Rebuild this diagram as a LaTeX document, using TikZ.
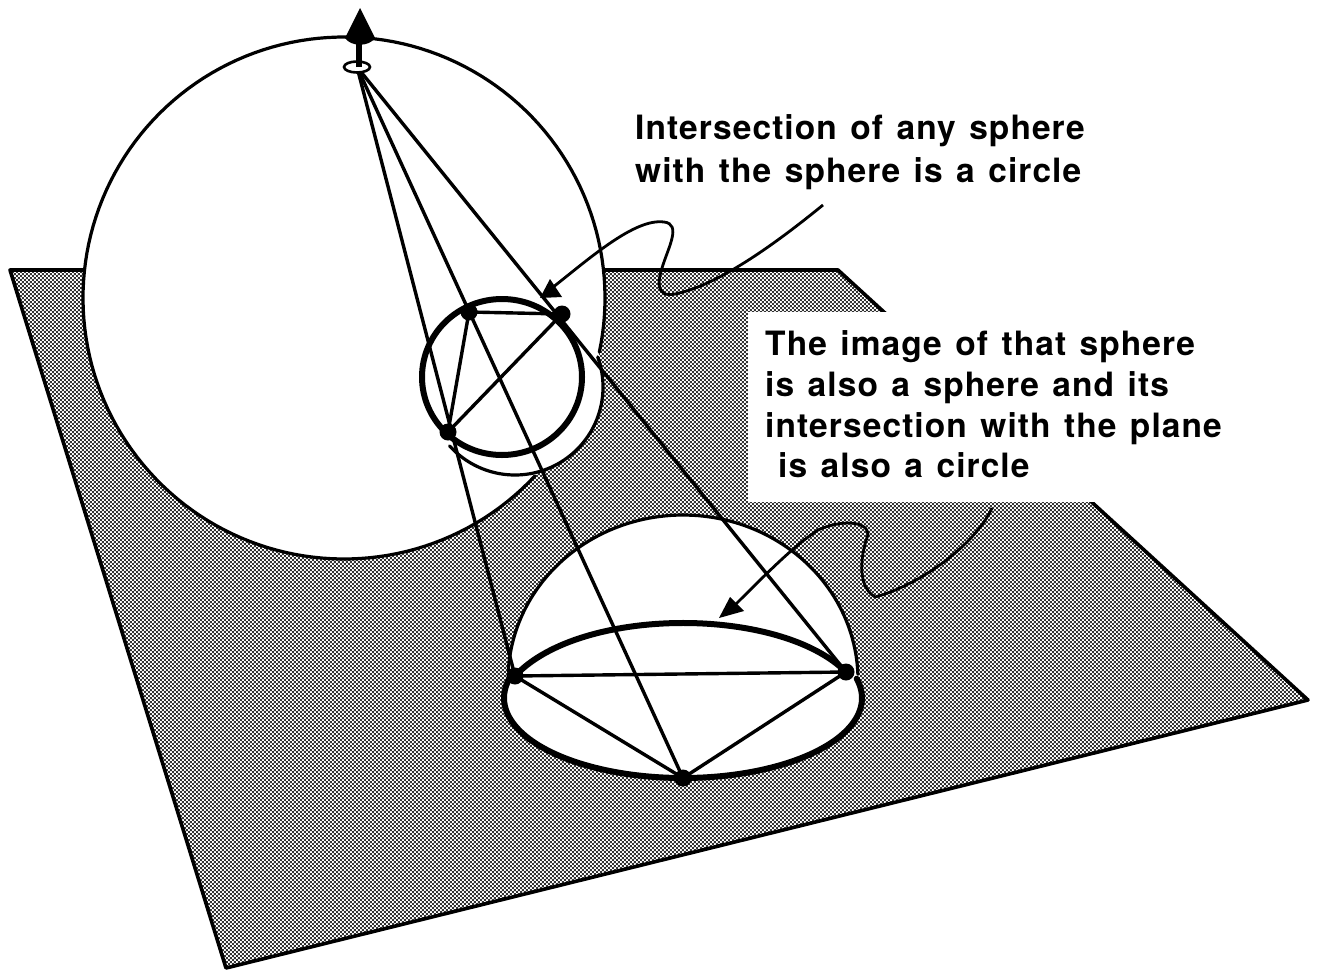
\documentclass[tikz,border=0pt]{standalone}
\usepackage{fontspec}
\setmainfont{TeX Gyre Heros}[LetterSpace=3.2,WordSpace=1.3]
\usetikzlibrary{patterns}
\pgfdeclarepatternformonly{dither}{\pgfqpoint{0pt}{0pt}}{\pgfqpoint{4.4pt}{4.4pt}}{\pgfqpoint{4.4pt}{4.4pt}}{
  \pgfpathrectangle{\pgfqpoint{0pt}{0pt}}{\pgfqpoint{2.2pt}{2.2pt}}
  \pgfpathrectangle{\pgfqpoint{2.2pt}{2.2pt}}{\pgfqpoint{2.2pt}{2.2pt}}
  \pgfusepath{fill}}
\tikzset{
  planefill/.style={pattern=dither,pattern color=black!80},
  edgeline/.style={draw=black,line width=3.6pt,line join=round},
  thin line/.style={draw=black,line width=3.2pt,line cap=round},
  ray/.style={draw=black,line width=3.4pt},
  heavy/.style={draw=black,line width=6pt,line cap=round},
  callout/.style={draw=black,line width=2.8pt},
  pointdot/.style={circle,fill=black,inner sep=0pt,minimum size=17pt},
  label/.style={anchor=base west,inner sep=0pt,font=\fontsize{33.5}{38}\selectfont\bfseries},
}
\begin{document}
\begin{tikzpicture}[x=1pt,y=-1pt]
\useasboundingbox (0,0) rectangle (1317,972);
% plane
\coordinate (P1) at (10,270);
\coordinate (P2) at (838,270);
\coordinate (P3) at (1308,700);
\coordinate (P4) at (226,968);
\fill[white] (P1)--(P2)--(P3)--(P4)--cycle;
\fill[planefill] (P1)--(P2)--(P3)--(P4)--cycle;
\draw[edgeline] (P1)--(P2)--(P3)--(P4)--cycle;
% white label box
\fill[white] (748,312) rectangle (1240,502);
% spheres (white discs)
\fill[white] (344,298) circle[radius=261];
\fill[white] (515,387) circle[radius=88];
\draw[thin line] plot[domain=43:372,samples=160] ({344+261*cos(\x)},{298+261*sin(\x)});
\draw[thin line] plot[domain=-20:138,samples=80] ({515+88*cos(\x)},{387+88*sin(\x)});
% hemisphere
\fill[white] plot[domain=180:360,samples=100] ({683+175*cos(\x)},{680+165*sin(\x)})
  -- plot[domain=0:180,samples=100] ({683+179*cos(\x)},{698+80*sin(\x)}) -- cycle;
\draw[thin line] plot[domain=183:358,samples=100] ({683+175*cos(\x)},{680+165*sin(\x)});
\draw[heavy] plot[domain=-14:196,samples=100] ({683+179*cos(\x)},{698+80*sin(\x)});
% named points
\node[pointdot] (a) at (469,312) {};
\node[pointdot] (b) at (562,314) {};
\node[pointdot] (c) at (448,432) {};
\node[pointdot] (d) at (515,676) {};
\node[pointdot] (e) at (846,672) {};
\node[pointdot] (f) at (683,778) {};
\coordinate (N) at (357,67);
% projection rays
\draw[ray] (N)--(d.center);
\draw[ray] (N)--(e.center);
\draw[ray] (N)--(f.center);
% triangles
\draw[ray] (a.center)--(b.center)--(c.center)--cycle;
\draw[ray] (d.center)--(e.center)--(f.center)--cycle;
% heavy circles
\draw[heavy] (502,377) ellipse[x radius=80,y radius=78];
\draw[heavy] (d.center) .. controls (580,606) and (780,606) .. (e.center);
% pole and north arrow
\draw[line width=2.6pt,fill=white] (N) ellipse[x radius=13,y radius=5.5];
\coordinate (S) at (359,67);
\draw[line width=5.5pt] (S)--(359,38);
\fill[black] (360,8) -- (375,38) .. controls (369,47) and (351,47) .. (345,38) -- cycle;
% callouts
\coordinate (c1s) at (823,205);
\coordinate (c1t) at (540,298);
\draw[callout] (c1s) .. controls (780,240) and (720,285) .. (675,294)
  .. controls (655,298) and (658,280) .. (662,268)
  .. controls (668,248) and (682,224) .. (664,222)
  .. controls (635,218) and (590,258) .. (552,288);
\fill[black] (c1t) -- (550,279) -- (556,288) -- (562,297) -- cycle;
\coordinate (c2s) at (992,508);
\coordinate (c2t) at (719,618);
\draw[callout] (c2s) .. controls (975,545) and (920,585) .. (875,597)
  .. controls (855,585) and (862,550) .. (868,535)
  .. controls (868,520) and (840,520) .. (818,530)
  .. controls (795,545) and (770,570) .. (735,605);
\fill[black] (c2t) -- (730,597) -- (737,604) -- (744,611) -- cycle;
% text
\node[label] (t1) at (635,139) {Intersection of any sphere};
\node[label] (t2) at (635,182) {with the sphere is a circle};
\node[label] (t3) at (765,355) {The image of that sphere};
\node[label] (t4) at (765,396) {is also a sphere and its};
\node[label] (t5) at (765,437) {intersection with the plane};
\node[label] (t6) at (778,477) {is also a circle};
\end{tikzpicture}
\end{document}
